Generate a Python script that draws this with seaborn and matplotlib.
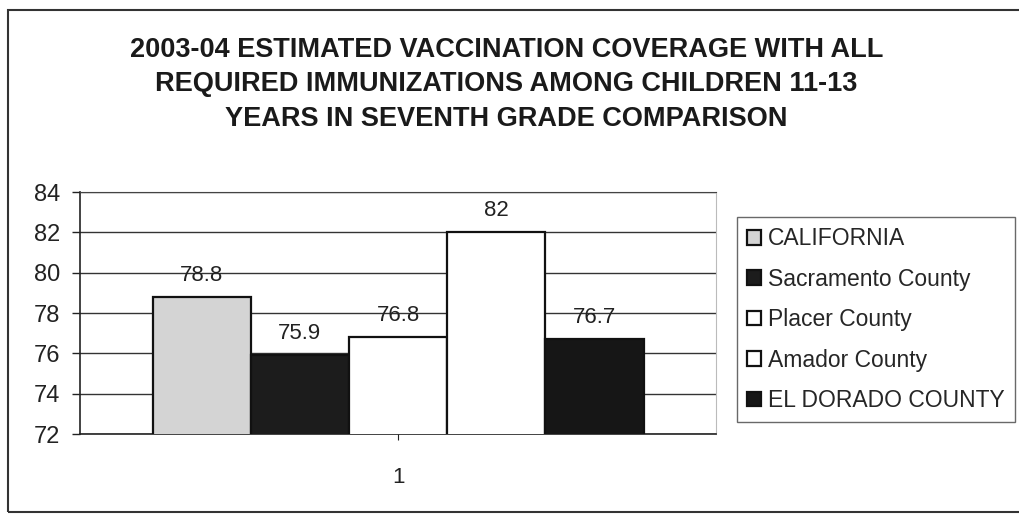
import numpy as np
import pandas as pd
import matplotlib
matplotlib.use("Agg")
import matplotlib.pyplot as plt
import seaborn as sns
from matplotlib.patches import Rectangle

# data
areas = ["CALIFORNIA", "Sacramento County", "Placer County", "Amador County", "EL DORADO COUNTY"]
coverage = [78.8, 75.9, 76.8, 82, 76.7]
group = ["1"] * len(areas)
colors = ["#d4d4d4", "#1c1c1c", "#ffffff", "#ffffff", "#161616"]
yticks = [72, 74, 76, 78, 80, 82, 84]

df = pd.DataFrame({"group": group, "area": areas, "value": coverage})

sns.set_style("white")
plt.rcParams['font.family'] = ['Liberation Sans', 'DejaVu Sans']

fig = plt.figure(figsize=(10.19, 5.17), dpi=100)
ax = fig.add_axes([0.0785, 0.1605, 0.6242, 0.4681])

sns.barplot(data=df, x="group", y="value", hue="area", hue_order=areas,
            palette=colors, width=0.772, edgecolor="#111111", linewidth=1.6,
            ax=ax, zorder=3)

for c in ax.containers:
    ax.bar_label(c, fmt="%g", padding=8, fontsize=16, color="#222222", zorder=4)

ax.set_ylim(72, 84)
ax.set_xlim(-0.5, 0.5)
ax.set_yticks(yticks)
ax.yaxis.grid(True, color="#333333", linewidth=1.0)
ax.set_axisbelow(True)
ax.set_xlabel("")
ax.set_ylabel("")
ax.tick_params(axis="y", labelsize=17, length=6, width=1, direction="out", left=True, pad=8, colors="#222222")
ax.tick_params(axis="x", labelsize=16, length=4, pad=20, bottom=True, colors="#222222")
for side in ["left", "bottom"]:
    ax.spines[side].set_color("#222222")
    ax.spines[side].set_linewidth(1.2)
ax.spines["top"].set_color("#444444")
ax.spines["right"].set_color("#bbbbbb")

handles, labels = ax.get_legend_handles_labels()
ax.legend(handles, labels, loc="upper left", bbox_to_anchor=(737 / 1019, 1 - 217 / 517),
          bbox_transform=fig.transFigure, fontsize=16.5, frameon=True, fancybox=False,
          edgecolor="#444444", handlelength=0.6, handleheight=0.6, handletextpad=0.3,
          labelspacing=0.76, borderpad=0.45, borderaxespad=0)

fig.text(0.497, 1 - 37 / 517, "2003-04 ESTIMATED VACCINATION COVERAGE WITH ALL\n"
         "REQUIRED IMMUNIZATIONS AMONG CHILDREN 11-13\n"
         "YEARS IN SEVENTH GRADE COMPARISON",
         ha="center", va="top", fontsize=19.5, fontweight="bold", color="#1a1a1a",
         linespacing=1.42)

fig.patches.append(Rectangle((8 / 1019, 1 - 512 / 517), 1.05, (512 - 10) / 517,
                             transform=fig.transFigure, fill=False,
                             edgecolor="#333333", linewidth=1.5))

fig.savefig("out.png", dpi=100)
